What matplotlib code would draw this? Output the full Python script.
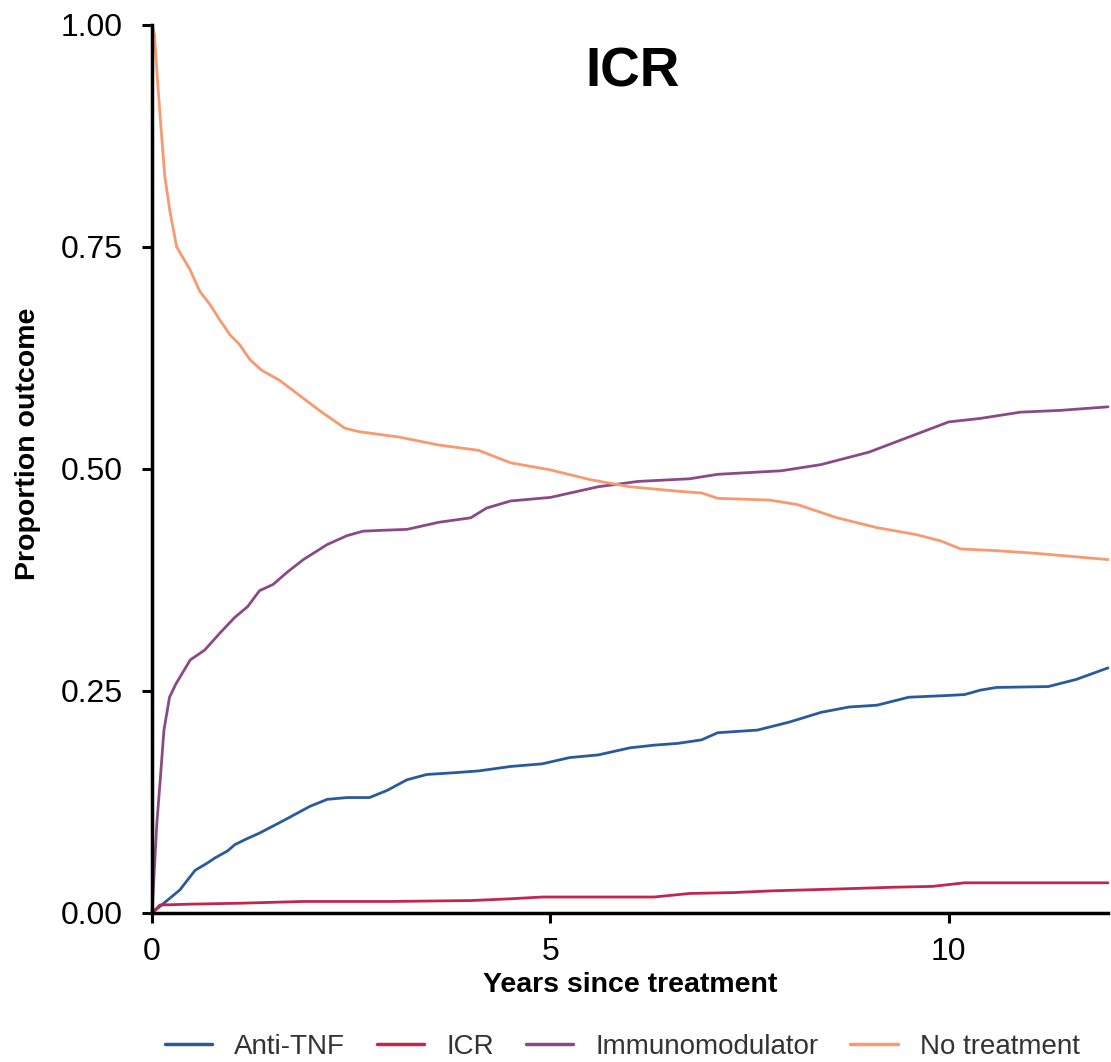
import matplotlib
matplotlib.use("Agg")
import matplotlib.pyplot as plt
import numpy as np

plt.rcParams['font.family'] = ['Liberation Sans', 'DejaVu Sans']

# ---- data ----
t_anti = [0, 0.35, 0.54, 0.69, 0.79, 0.95, 1.04, 1.2, 1.35, 1.67, 1.98, 2.2, 2.45, 2.73, 2.95, 3.2, 3.45, 3.8, 4.1, 4.5, 4.9, 5.24, 5.6, 6.0, 6.3, 6.6, 6.9, 7.1, 7.6, 8.0, 8.4, 8.75, 9.1, 9.5, 10.0, 10.2, 10.4, 10.6, 11.25, 11.6, 12.0]
v_anti = [0, 0.026, 0.048, 0.056, 0.062, 0.07, 0.077, 0.084, 0.09, 0.105, 0.12, 0.128, 0.13, 0.13, 0.138, 0.15, 0.156, 0.158, 0.16, 0.165, 0.168, 0.175, 0.178, 0.186, 0.189, 0.191, 0.195, 0.203, 0.206, 0.215, 0.226, 0.232, 0.234, 0.243, 0.245, 0.246, 0.251, 0.254, 0.255, 0.263, 0.276]

t_icr = [0, 0.1, 0.5, 1.1, 1.9, 3.0, 4.0, 4.5, 4.9, 5.5, 6.3, 6.75, 7.3, 7.8, 8.2, 8.6, 9.3, 9.8, 10.0, 10.2, 10.8, 12.0]
v_icr = [0, 0.009, 0.010, 0.011, 0.013, 0.013, 0.014, 0.016, 0.018, 0.018, 0.018, 0.022, 0.023, 0.025, 0.026, 0.027, 0.029, 0.030, 0.032, 0.034, 0.034, 0.034]

t_imm = [0, 0.06, 0.1, 0.15, 0.22, 0.3, 0.38, 0.48, 0.66, 0.85, 1.04, 1.2, 1.35, 1.52, 1.7, 1.9, 2.2, 2.45, 2.65, 2.9, 3.2, 3.6, 4.0, 4.2, 4.5, 5.0, 5.6, 6.1, 6.75, 7.1, 7.9, 8.4, 9.0, 9.5, 10.0, 10.4, 10.9, 11.4, 12.0]
v_imm = [0, 0.1, 0.146, 0.206, 0.243, 0.258, 0.27, 0.285, 0.296, 0.315, 0.333, 0.345, 0.363, 0.37, 0.384, 0.398, 0.415, 0.425, 0.43, 0.431, 0.432, 0.44, 0.445, 0.456, 0.464, 0.468, 0.48, 0.486, 0.489, 0.494, 0.498, 0.505, 0.519, 0.536, 0.553, 0.557, 0.564, 0.566, 0.57]

t_none = [0, 0.03, 0.075, 0.125, 0.16, 0.225, 0.31, 0.48, 0.6, 0.73, 0.85, 0.98, 1.1, 1.23, 1.38, 1.6, 1.85, 2.1, 2.42, 2.6, 3.1, 3.6, 4.1, 4.5, 5.0, 5.5, 6.0, 6.6, 6.9, 7.1, 7.75, 8.1, 8.6, 9.1, 9.6, 9.9, 10.15, 10.6, 11.1, 12.0]
v_none = [1.0, 0.99, 0.93, 0.87, 0.83, 0.79, 0.75, 0.724, 0.70, 0.685, 0.668, 0.651, 0.64, 0.623, 0.611, 0.60, 0.583, 0.566, 0.546, 0.542, 0.536, 0.527, 0.521, 0.507, 0.499, 0.488, 0.48, 0.475, 0.473, 0.467, 0.465, 0.46, 0.445, 0.434, 0.426, 0.419, 0.410, 0.408, 0.405, 0.398]

series_names = ["Anti-TNF", "ICR", "Immunomodulator", "No treatment"]
series_colors = ["#2A5A9E", "#C2264D", "#8B4A85", "#F8996F"]

x_ticks = [0, 5, 10]
y_ticks = [0.00, 0.25, 0.50, 0.75, 1.00]
y_ticklabels = ["0.00", "0.25", "0.50", "0.75", "1.00"]

fig = plt.figure(figsize=(11.11, 10.62), dpi=100)
ax = fig.add_axes([152/1111, 1 - 913/1062, (1108-152)/1111, (913-25)/1062])

for (tx, vy), name, col in zip([(t_anti, v_anti), (t_icr, v_icr), (t_imm, v_imm), (t_none, v_none)],
                               series_names, series_colors):
    ax.plot(tx, vy, color=col, lw=2.0, label=name, solid_joinstyle='round',
            solid_capstyle='round', clip_on=False)

ax.set_xlim(0, 12)
ax.set_ylim(0, 1)
ax.set_xticks(x_ticks)
ax.set_xticklabels([str(v) for v in x_ticks])
ax.set_yticks(y_ticks)
ax.set_yticklabels(y_ticklabels)

for s in ["top", "right"]:
    ax.spines[s].set_visible(False)
for s in ["left", "bottom"]:
    ax.spines[s].set_linewidth(2.5)
    ax.spines[s].set_color("black")

ax.tick_params(axis='both', which='major', labelsize=23, length=7, width=2.2,
               direction='out', colors='black')
ax.tick_params(axis='x', pad=10)
ax.tick_params(axis='y', pad=14)

ax.set_xlabel("Years since treatment", fontsize=20.5, fontweight='bold', labelpad=4)
ax.set_ylabel("Proportion outcome", fontsize=20.5, fontweight='bold')
ax.yaxis.set_label_coords(-0.116, 0.528)

ax.text(0.503, 0.947, "ICR", transform=ax.transAxes, fontsize=39.5, fontweight='bold',
        ha='center', va='center')

leg = fig.legend(loc='center', bbox_to_anchor=(0.56, 1 - 1047/1062), ncol=4, frameon=False,
                 fontsize=20, handlelength=1.7, columnspacing=1.15, handletextpad=0.8)
for txt in leg.get_texts():
    txt.set_color("#333333")
for h in leg.get_lines():
    h.set_linewidth(2.5)

fig.savefig("out.png", dpi=100)
